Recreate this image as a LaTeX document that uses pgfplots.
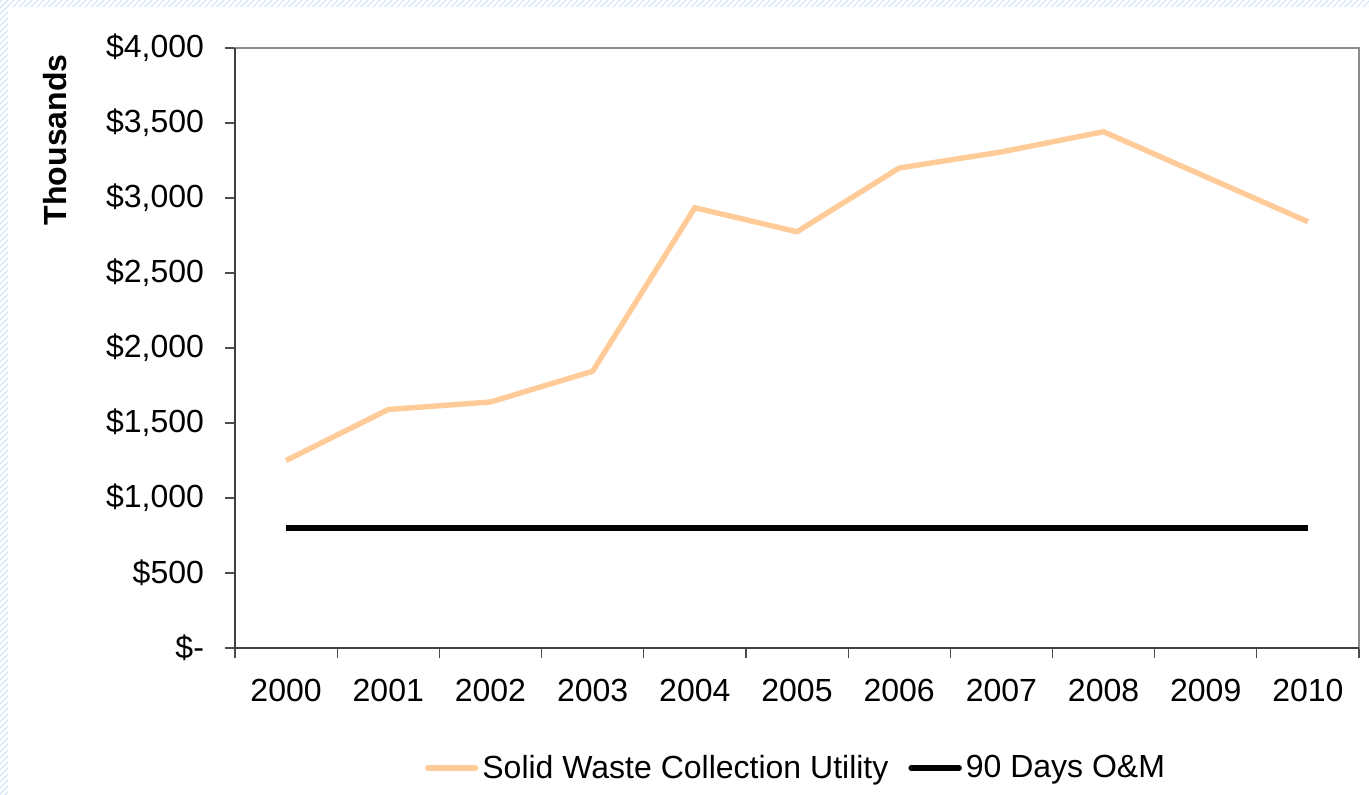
\documentclass[border=0pt]{standalone}
\usepackage{pgfplots}
\pgfplotsset{compat=1.18}
\usepackage{fontspec}
\setmainfont{Liberation Sans}
\usetikzlibrary{patterns}
\definecolor{sw}{RGB}{255,204,153}
\definecolor{hatch}{RGB}{200,225,245}
\begin{document}
\begin{tikzpicture}
\path[use as bounding box] (0,0) rectangle (684.5pt,397pt);
\fill[pattern=north east lines, pattern color=hatch] (0,0) rectangle (4pt,397pt);
\fill[pattern=north east lines, pattern color=hatch] (0,393.5pt) rectangle (684.5pt,397pt);
\begin{axis}[
  at={(117.5pt,73pt)}, anchor=south west,
  scale only axis, width=562pt, height=300pt,
  xmin=-0.5, xmax=10.5, ymin=0, ymax=4000,
  xtick={0,...,10},
  xticklabels={2000,2001,2002,2003,2004,2005,2006,2007,2008,2009,2010},
  minor xtick={-0.5,0.5,...,10.5},
  ytick={0,500,...,4000},
  yticklabels={{\$-},{\$500},{\$1,000},{\$1,500},{\$2,000},{\$2,500},{\$3,000},{\$3,500},{\$4,000}},
  tick align=outside,
  xtick pos=bottom, ytick pos=left,
  x tick style={draw=none},
  minor x tick style={draw=black!70, line width=0.6pt},
  minor tick length=5pt,
  major tick length=5pt,
  y tick style={draw=black!70, line width=0.6pt},
  axis line style={draw=gray!90, line width=0.8pt},
  ticklabel style={font=\fontsize{16}{19}\selectfont},
  xticklabel style={yshift=-7pt},
  yticklabel style={xshift=-7pt},
  legend style={at={(0.5,-0.2)}, anchor=center, draw=none, legend columns=2,
    font=\fontsize{16}{19}\selectfont, /tikz/every even column/.append style={column sep=8pt}},
  legend image code/.code={\draw[#1, line cap=round] (0pt,0pt) -- (24pt,0pt);},
  clip=false,
]
\addplot[sw, line width=2.7pt] coordinates {
(0,1250) (1,1590) (2,1640) (3,1845) (4,2935) (5,2775) (6,3200) (7,3307) (8,3442) (9,3142) (10,2842)};
\addlegendentry{Solid Waste Collection Utility}
\addplot[black, line width=2.7pt] coordinates {
(0,800) (1,800) (2,800) (3,800) (4,800) (5,800) (6,800) (7,800) (8,800) (9,800) (10,800)};
\addlegendentry{90 Days O\&M}
\draw[black!75, line width=0.8pt] (rel axis cs:0,1) -- (rel axis cs:0,0) -- (rel axis cs:1,0);
\node[rotate=90, anchor=center, font=\fontsize{16}{19}\selectfont\bfseries] at ([xshift=-90pt]rel axis cs:0,0.847) {Thousands};
\end{axis}
\end{tikzpicture}
\end{document}
